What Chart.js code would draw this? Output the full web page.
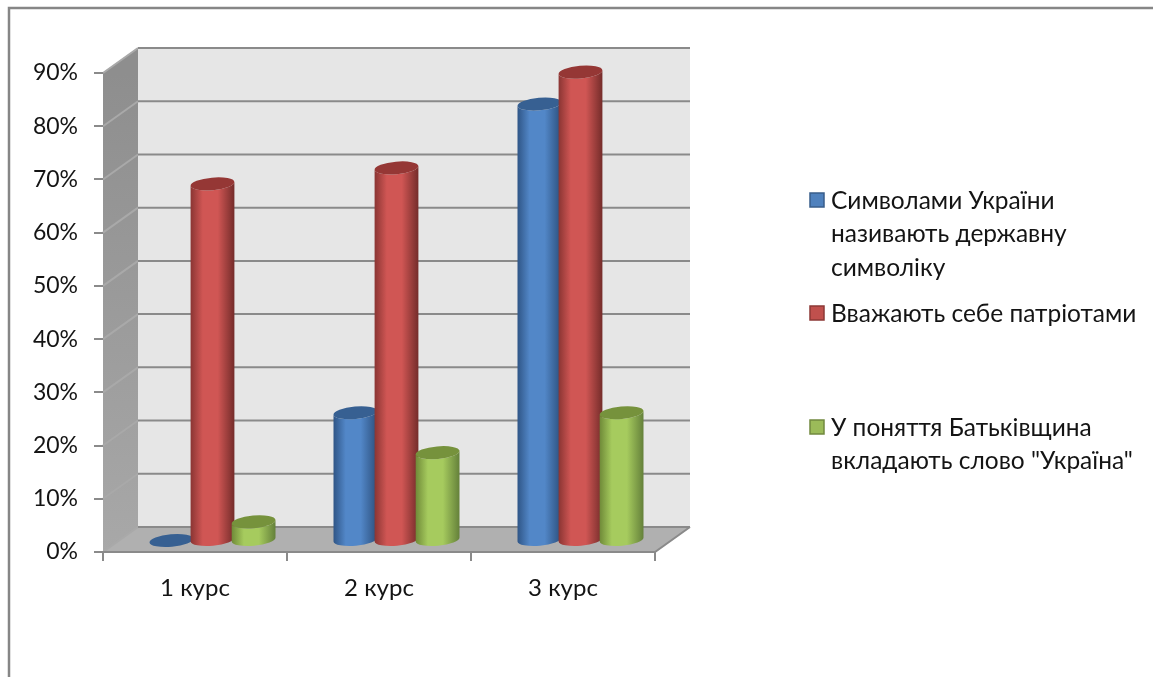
<!DOCTYPE html>
<html>
<head>
<meta charset="utf-8">
<style>
  html, body { margin: 0; padding: 0; background: #fff; overflow: hidden; }
  canvas { display: block; }
</style>
<script src="https://cdn.jsdelivr.net/npm/chart.js@4"></script>
</head>
<body>
<canvas id="chart" width="1153" height="677"></canvas>
<script>
const categories = ["1 курс", "2 курс", "3 курс"];
const symbolValues = [0, 24, 82];
const patriotValues = [67, 70, 88];
const wordValues = [3.5, 16.5, 24];
const seriesNames = ["Символами України називають державну символіку", "Вважають себе патріотами", "У поняття Батьківщина вкладають слово \"Україна\""];
const legendLines = [
    ["Символами України", "називають державну", "символіку"],
    ["Вважають себе патріотами"],
    ["У поняття Батьківщина", "вкладають слово \"Україна\""]
];
const legendRowY = [201, 314, 428];

const fontName = '"Lato", "Open Sans", sans-serif';
const textColor = "#141414";
const lineGray = "#8a8a8a";
// depth of the 3d box, bars stand in the middle of it
const depthX = 35, depthY = 25;

// colours of each cylinder: left edge, shine, right edge, top cap
const barColors = [
    { edge: "#2f5586", mid: "#5287c8", dark: "#2c4f7c", cap: "#376092", box: "#4f81bd", line: "#385d8a" },
    { edge: "#8a3533", mid: "#d05654", dark: "#742c2a", cap: "#953735", box: "#c0504d", line: "#8c3836" },
    { edge: "#6f8a38", mid: "#a6cb5e", dark: "#64803a", cap: "#76923c", box: "#9bbb59", line: "#71893f" }
];

function drawCylinder(ctx, bar, colors) {
    const { x, y, base, width } = bar.getProps(["x", "y", "base", "width"], true);
    const rx = width / 2, ry = 6.3, tilt = -5 * Math.PI / 180;
    const grad = ctx.createLinearGradient(x - rx, 0, x + rx, 0);
    grad.addColorStop(0, colors.edge);
    grad.addColorStop(0.28, colors.mid);
    grad.addColorStop(0.62, colors.mid);
    grad.addColorStop(1, colors.dark);
    ctx.beginPath();
    ctx.ellipse(x, base, rx, ry, tilt, 0, Math.PI);
    ctx.ellipse(x, y, rx, ry, tilt, Math.PI, 0, true);
    ctx.closePath();
    ctx.fillStyle = grad;
    ctx.fill();
    ctx.beginPath();
    ctx.ellipse(x, y, rx, ry, tilt, 0, Math.PI * 2);
    ctx.fillStyle = colors.cap;
    ctx.fill();
}

const box3d = {
    id: "box3d",
    beforeDraw(chart) {
        const ctx = chart.ctx;
        const { left, right, top, bottom } = chart.chartArea;
        const yScale = chart.scales.y;

        ctx.save();
        // frame of the picture, it runs off the right and bottom
        ctx.strokeStyle = "#868686";
        ctx.lineWidth = 2.5;
        ctx.beginPath();
        ctx.moveTo(9, 677);
        ctx.lineTo(9, 8);
        ctx.lineTo(1153, 8);
        ctx.stroke();

        // back wall
        ctx.fillStyle = "#e6e6e6";
        ctx.fillRect(left + depthX, top - depthY, right - left, bottom - top);

        // side wall
        const wall = ctx.createLinearGradient(0, top, 0, bottom);
        wall.addColorStop(0, "#8e8e8e");
        wall.addColorStop(1, "#a8a8a8");
        ctx.fillStyle = wall;
        ctx.beginPath();
        ctx.moveTo(left, top);
        ctx.lineTo(left + depthX, top - depthY);
        ctx.lineTo(left + depthX, bottom - depthY);
        ctx.lineTo(left, bottom);
        ctx.closePath();
        ctx.fill();

        // floor
        ctx.fillStyle = "#b0b0b0";
        ctx.beginPath();
        ctx.moveTo(left, bottom);
        ctx.lineTo(left + depthX, bottom - depthY);
        ctx.lineTo(right + depthX, bottom - depthY);
        ctx.lineTo(right, bottom);
        ctx.closePath();
        ctx.fill();

        // gridlines on the side wall and the back wall
        ctx.lineWidth = 2;
        yScale.ticks.forEach(t => {
            const py = yScale.getPixelForValue(t.value);
            ctx.strokeStyle = "#a9a9a9";
            ctx.beginPath();
            ctx.moveTo(left, py);
            ctx.lineTo(left + depthX, py - depthY);
            ctx.stroke();
            ctx.strokeStyle = lineGray;
            ctx.beginPath();
            ctx.moveTo(left + depthX, py - depthY);
            ctx.lineTo(right + depthX, py - depthY);
            ctx.stroke();
        });

        // front edges of the floor
        ctx.strokeStyle = lineGray;
        ctx.beginPath();
        ctx.moveTo(left, bottom);
        ctx.lineTo(right, bottom);
        ctx.lineTo(right + depthX, bottom - depthY);
        ctx.stroke();
        ctx.restore();
    },
    // the cylinders replace the flat bars
    beforeDatasetDraw() {
        return false;
    },
    afterDatasetsDraw(chart) {
        const ctx = chart.ctx;
        ctx.save();
        ctx.translate(depthX / 2, -depthY / 2 + 1);
        chart.data.datasets.forEach((ds, i) => {
            chart.getDatasetMeta(i).data.forEach(bar => drawCylinder(ctx, bar, barColors[i]));
        });
        ctx.restore();
    },
    afterDraw(chart) {
        const ctx = chart.ctx;
        ctx.save();
        ctx.font = "24.5px " + fontName;
        ctx.textBaseline = "middle";
        legendLines.forEach((lines, i) => {
            const rowY = legendRowY[i];
            ctx.fillStyle = barColors[i].box;
            ctx.strokeStyle = barColors[i].line;
            ctx.lineWidth = 1.5;
            ctx.fillRect(810, rowY - 8, 14, 14);
            ctx.strokeRect(810, rowY - 8, 14, 14);
            ctx.fillStyle = textColor;
            lines.forEach((line, j) => ctx.fillText(line, 831, rowY + j * 33.5));
        });
        ctx.restore();
    }
};

new Chart(document.getElementById("chart"), {
    type: "bar",
    data: {
        labels: categories,
        datasets: [
            { label: seriesNames[0], data: symbolValues, backgroundColor: barColors[0].box },
            { label: seriesNames[1], data: patriotValues, backgroundColor: barColors[1].box },
            { label: seriesNames[2], data: wordValues, backgroundColor: barColors[2].box }
        ]
    },
    options: {
        responsive: false,
        animation: false,
        devicePixelRatio: 1,
        categoryPercentage: 0.67,
        barPercentage: 1.07,
        layout: { padding: { left: 0, top: 73, right: 498, bottom: 0 } },
        plugins: {
            legend: { display: false },
            tooltip: { enabled: false }
        },
        scales: {
            x: {
                afterFit: s => { s.height = 125; },
                grid: { drawOnChartArea: false, tickLength: 9, tickColor: lineGray, lineWidth: 2 },
                border: { display: false },
                ticks: { color: textColor, padding: 13, font: { family: fontName, size: 24 } }
            },
            y: {
                min: 0,
                max: 90,
                afterFit: s => { s.width = 103; },
                grid: { drawOnChartArea: false, tickLength: 9, tickColor: lineGray, lineWidth: 2 },
                border: { display: false },
                ticks: {
                    stepSize: 10,
                    color: textColor,
                    padding: 16,
                    font: { family: fontName, size: 23 },
                    callback: v => v + "%"
                }
            }
        }
    },
    plugins: [box3d]
});
</script>
</body>
</html>
